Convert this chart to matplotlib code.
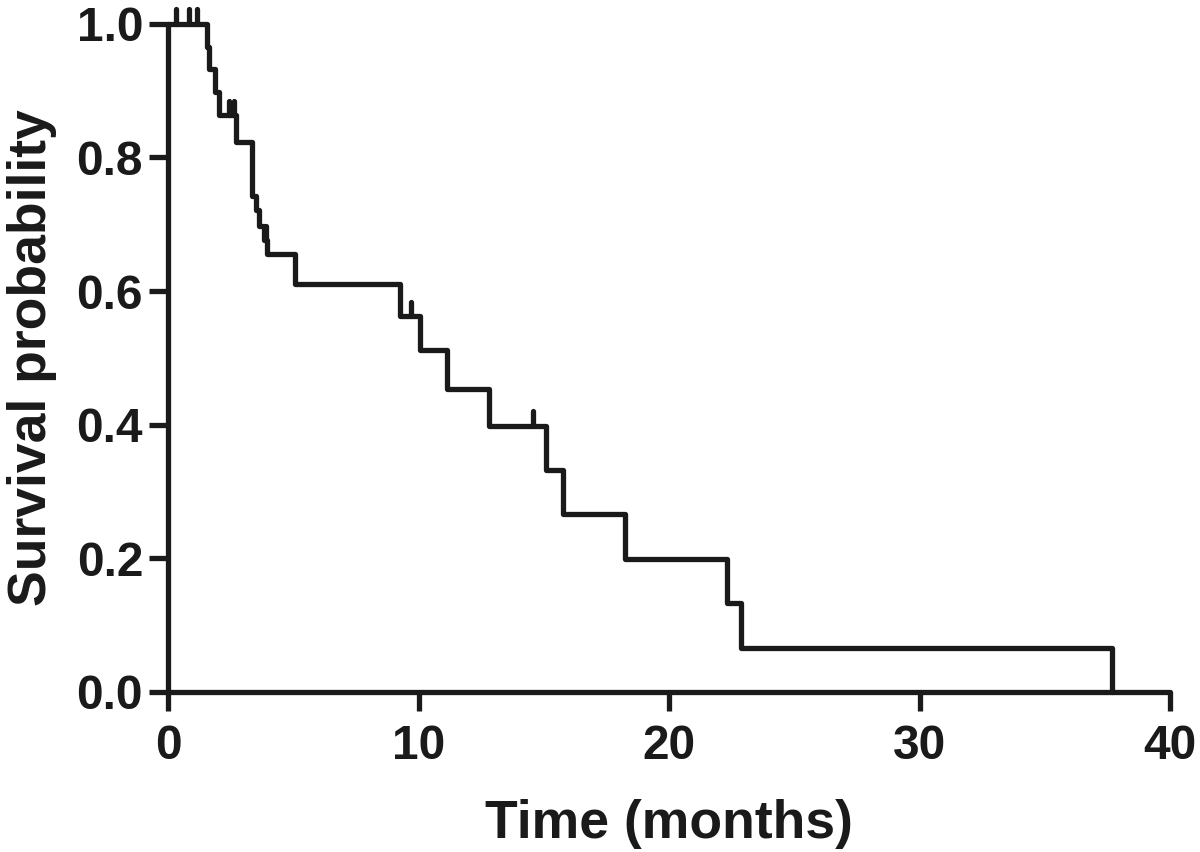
import numpy as np
import matplotlib
matplotlib.use("Agg")
import matplotlib.pyplot as plt

# Kaplan-Meier step data
times = [0, 1.56, 1.65, 1.87, 2.03, 2.72, 3.36, 3.50, 3.65, 3.82, 3.97, 5.05,
         9.25, 10.05, 11.12, 12.80, 15.08, 15.75, 18.25, 22.33, 22.88, 37.67]
surv = [1.0, 0.965, 0.932, 0.898, 0.863, 0.823, 0.742, 0.722, 0.697, 0.676, 0.656,
        0.611, 0.562, 0.511, 0.454, 0.398, 0.332, 0.266, 0.199, 0.133, 0.066, 0.0]
censor_times = [0.33, 0.85, 1.17, 2.42, 2.62, 3.90, 9.72, 14.56]

x_ticks = [0, 10, 20, 30, 40]
y_ticks = [0.0, 0.2, 0.4, 0.6, 0.8, 1.0]
x_label = "Time (months)"
y_label = "Survival probability"

plt.rcParams['font.family'] = ['Liberation Sans', 'DejaVu Sans']
plt.rcParams['font.weight'] = 'bold'

col = '#1a1a1a'
lw = 3.8

fig = plt.figure(figsize=(12, 8.52), dpi=100)
ax = fig.add_axes([0.14, 0.188, 0.835, 0.784])

ax.step(times, surv, where='post', color=col, lw=lw, clip_on=False,
        solid_joinstyle='round', solid_capstyle='round', zorder=3)

t_arr = np.array(times)
s_arr = np.array(surv)
idx = np.searchsorted(t_arr, censor_times, side='right') - 1
cy = s_arr[idx]
ax.vlines(censor_times, cy, cy + 0.022, color=col, lw=lw, clip_on=False,
          capstyle='round', zorder=3)

ax.set_xlim(0, 40)
ax.set_ylim(0, 1.0)
ax.set_xticks(x_ticks)
ax.set_yticks(y_ticks)
ax.set_xticklabels([str(v) for v in x_ticks])
ax.set_yticklabels([f"{v:.1f}" for v in y_ticks])

for s in ['top', 'right']:
    ax.spines[s].set_visible(False)
for s in ['left', 'bottom']:
    ax.spines[s].set_linewidth(lw)
    ax.spines[s].set_color(col)
    ax.spines[s].set_capstyle('round')

ax.tick_params(axis='both', direction='out', length=14, width=lw, color=col,
               labelsize=34.5, labelcolor=col)
ax.tick_params(axis='x', pad=9)
ax.tick_params(axis='y', pad=4)

ax.set_xlabel(x_label, fontsize=38.5, fontweight='bold', color=col, labelpad=22)
ax.set_ylabel(y_label, fontsize=38.5, fontweight='bold', color=col, labelpad=14)

fig.savefig("out.png", dpi=100, facecolor='white')
